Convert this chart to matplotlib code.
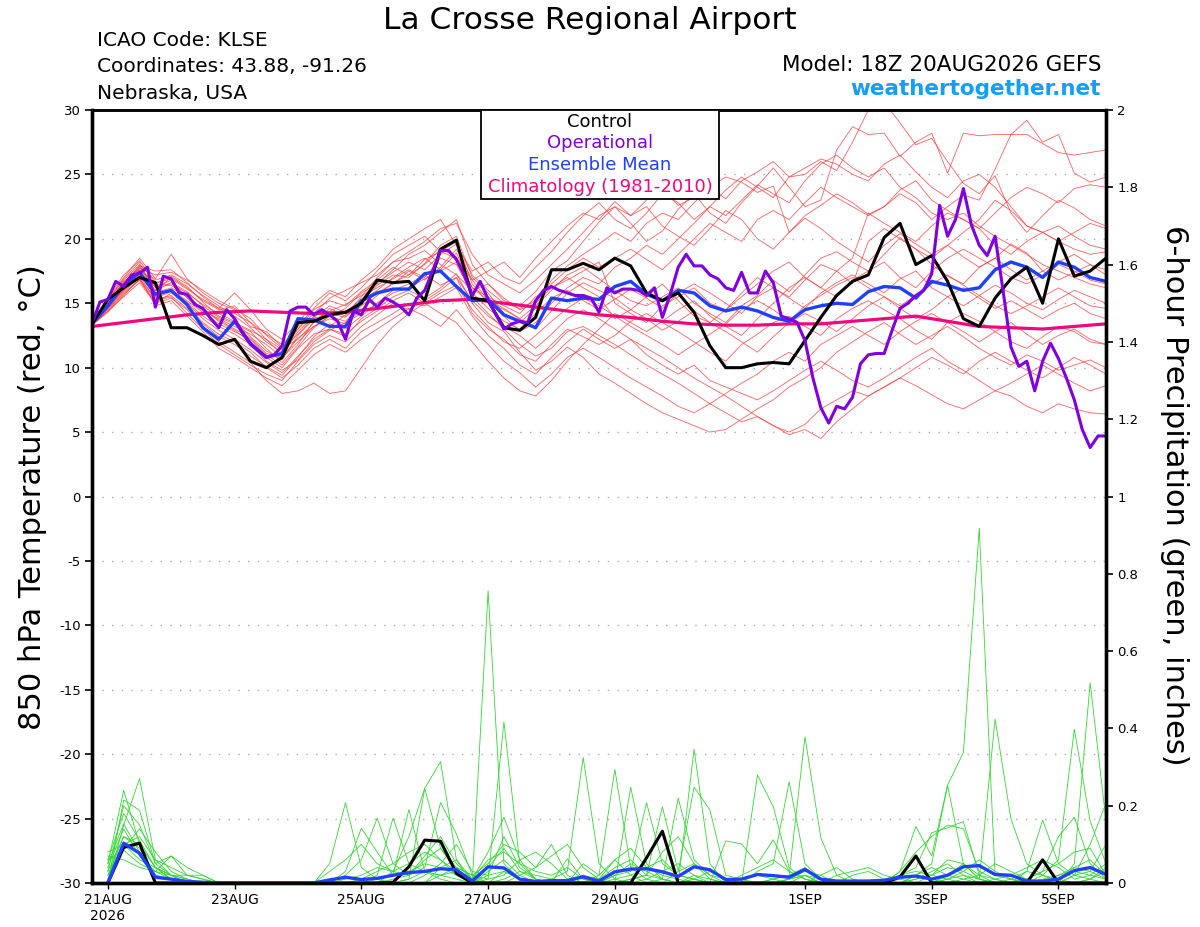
import numpy as np
import pandas as pd
import matplotlib
matplotlib.use("Agg")
import matplotlib.pyplot as plt
from matplotlib.patches import Rectangle

plt.rcParams["font.family"] = ["DejaVu Sans"]
plt.rcParams["axes.unicode_minus"] = False

# time axes (run 18Z 20AUG2026)
times6 = pd.date_range("2026-08-20 18:00", periods=65, freq="6h")
times3 = pd.date_range("2026-08-20 18:00", periods=129, freq="3h")
times12 = pd.date_range("2026-08-20 18:00", periods=33, freq="12h")
times_p = times6[1:]

tick_times = pd.to_datetime(["2026-08-21", "2026-08-23", "2026-08-25", "2026-08-27",
                             "2026-08-29", "2026-09-01", "2026-09-03", "2026-09-05"])
tick_labels = ["21AUG\n2026", "23AUG", "25AUG", "27AUG", "29AUG", "1SEP", "3SEP", "5SEP"]

# 850 hPa temperature, control (6h)
control_t = [13.4, 15.3, 16.2, 17.0, 16.6, 13.1, 13.1, 12.5, 11.8,
             12.2, 10.5, 10.0, 10.8, 13.5, 13.6, 14.1, 14.3,
             15.0, 16.8, 16.6, 16.7, 15.2, 19.2, 19.9, 15.4,
             15.2, 13.1, 12.9, 13.9, 17.6, 17.6, 18.1, 17.6,
             18.5, 17.9, 15.8, 15.2, 15.8, 14.3, 11.7, 10.0,
             10.0, 10.3, 10.4, 10.3, 12.1, 13.9, 15.6, 16.7,
             17.2, 20.1, 21.2, 18.0, 18.7, 16.7, 13.8, 13.2,
             15.4, 16.9, 17.8, 15.0, 20.0, 17.1, 17.5, 18.5]

# ensemble mean (6h)
mean_t = [13.4, 14.8, 16.4, 17.4, 15.7, 16.0, 14.9, 13.1, 12.2,
          13.6, 11.9, 10.8, 11.1, 13.8, 13.7, 13.2, 13.2,
          15.2, 15.8, 16.1, 16.1, 17.3, 17.5, 16.3, 15.2,
          15.3, 14.1, 13.6, 13.1, 15.4, 15.2, 15.4, 15.3,
          16.3, 16.7, 15.7, 15.2, 16.0, 15.8, 14.8, 14.4,
          14.7, 14.4, 13.9, 13.6, 14.5, 14.8, 15.0, 14.9,
          15.9, 16.3, 16.2, 15.4, 16.7, 16.4, 16.0, 16.2,
          17.6, 18.2, 17.8, 17.0, 18.2, 17.8, 17.0, 16.7]

# operational run (3h)
oper_t = [13.4, 15.1, 15.3, 16.7, 16.3, 17.2, 17.3, 17.8, 14.7, 17.1, 16.9, 15.8, 15.7,
          14.9, 14.6, 13.8, 13.1, 14.5, 13.8, 12.7, 11.8, 11.3, 10.8, 11.0, 11.7,
          14.4, 14.7, 14.7, 14.1, 14.5, 14.1, 13.6, 12.2, 14.4, 14.1, 15.3, 14.7,
          15.4, 15.1, 14.7, 14.1, 15.4, 16.0, 17.5, 19.1, 19.1, 18.4, 17.2, 15.6,
          16.7, 15.3, 14.1, 13.0, 13.4, 13.6, 13.5, 15.2, 16.0, 16.3, 16.0, 15.8,
          15.6, 15.6, 15.4, 14.3, 16.2, 15.8, 16.1, 16.1, 16.0, 15.6, 16.2, 13.9,
          15.7, 17.8, 18.8, 17.9, 17.9, 17.2, 16.9, 16.2, 16.0, 17.4, 15.8, 15.8,
          17.5, 16.6, 14.0, 13.8, 13.5, 12.1, 9.2, 6.9, 5.7, 7.0, 6.8, 7.7,
          10.3, 11.0, 11.1, 11.1, 12.9, 14.6, 15.0, 15.6, 16.0, 17.3, 22.6, 20.2,
          21.5, 23.9, 21.1, 19.5, 18.7, 20.2, 16.0, 11.6, 10.1, 10.5, 8.2, 10.5,
          11.9, 10.7, 9.2, 7.5, 5.2, 3.8, 4.7, 4.7]

# climatology 1981-2010 (12h)
clim_t = [13.2, 13.5, 13.8, 14.1, 14.3, 14.4, 14.3, 14.2, 14.3, 14.6, 14.9,
          15.2, 15.3, 15.0, 14.7, 14.4, 14.1, 13.9, 13.6, 13.4, 13.3, 13.3,
          13.4, 13.4, 13.6, 13.8, 14.0, 13.6, 13.2, 13.1, 13.0, 13.2, 13.4]

# ensemble members, temperature (6h)
ens_t01 = [13.4, 15.0, 16.5, 17.8, 16.4, 16.5, 15.8, 14.9, 14.2,
           13.6, 12.4, 11.3, 10.6, 12.5, 13.8, 14.2, 13.9,
           15.1, 16.4, 17.2, 17.0, 18.1, 19.5, 20.2, 17.0,
           15.8, 14.2, 13.5, 14.6, 16.8, 17.9, 18.8, 19.6,
           20.5, 19.8, 21.2, 22.0, 21.5, 22.8, 24.0, 23.1,
           24.5, 25.2, 26.0, 24.8, 25.0, 26.0, 25.3, 27.5,
           30.0, 30.6, 29.0, 27.3, 27.8, 26.0, 24.3, 23.5,
           24.9, 22.0, 20.5, 21.8, 23.0, 22.4, 21.5, 21.0]
ens_t02 = [13.5, 14.6, 16.2, 17.5, 16.0, 17.0, 16.2, 15.2, 14.5,
           14.8, 13.5, 12.2, 11.0, 12.8, 14.0, 13.2, 14.1,
           15.5, 17.0, 18.2, 18.5, 19.1, 18.0, 17.2, 16.0,
           16.5, 15.2, 14.8, 15.9, 17.5, 18.3, 19.8, 21.3,
           22.5, 21.2, 19.8, 20.6, 22.3, 23.5, 22.0, 21.2,
           22.8, 24.1, 25.5, 24.0, 22.5, 23.0, 26.9, 28.7,
           28.1, 28.2, 26.4, 27.5, 28.2, 25.1, 28.2, 28.0,
           28.1, 28.1, 28.1, 27.4, 26.7, 26.5, 26.7, 26.9]
ens_t03 = [13.3, 14.8, 16.0, 17.2, 15.6, 16.0, 15.1, 14.0, 13.2,
           12.6, 11.8, 10.5, 9.8, 10.6, 12.0, 12.9, 13.5,
           14.2, 15.0, 15.8, 16.2, 16.9, 17.5, 18.2, 15.5,
           14.2, 13.0, 11.8, 10.9, 11.5, 12.8, 13.2, 12.5,
           11.8, 11.0, 10.2, 9.5, 8.8, 8.0, 7.2, 6.5,
           5.8, 6.2, 5.5, 5.0, 5.6, 6.8, 7.5, 8.2,
           7.8, 8.5, 9.2, 8.6, 7.9, 7.2, 6.8, 7.5,
           8.2, 7.8, 7.0, 6.5, 7.2, 6.8, 6.5, 6.4]
ens_t04 = [13.4, 15.2, 16.8, 18.0, 16.8, 17.2, 16.5, 15.6, 14.8,
           14.0, 13.1, 12.0, 11.2, 13.0, 14.5, 15.2, 14.8,
           15.9, 16.8, 17.8, 17.2, 18.4, 19.0, 19.8, 16.5,
           15.0, 14.5, 13.8, 14.8, 16.0, 17.2, 17.8, 16.9,
           16.0, 15.2, 14.8, 15.5, 16.2, 15.0, 14.2, 13.5,
           14.8, 15.6, 16.8, 15.9, 17.2, 18.5, 19.0, 18.2,
           17.5, 18.8, 20.1, 19.2, 18.0, 17.1, 16.5, 17.8,
           18.5, 19.6, 18.9, 17.5, 16.8, 17.4, 18.0, 17.2]
ens_t05 = [13.4, 14.5, 15.8, 16.8, 15.2, 15.5, 14.2, 13.0, 11.8,
           11.0, 10.2, 9.5, 9.0, 10.5, 11.8, 12.5, 12.0,
           13.2, 14.1, 15.0, 14.5, 15.2, 16.0, 17.0, 14.2,
           13.0, 12.2, 11.0, 10.5, 11.8, 13.0, 12.4, 11.8,
           12.5, 13.6, 14.2, 13.5, 12.8, 12.0, 11.2, 10.5,
           11.8, 12.6, 13.5, 14.0, 13.2, 12.5, 13.8, 14.6,
           15.2, 14.5, 13.8, 12.9, 12.2, 13.5, 14.2, 13.6,
           12.8, 12.0, 11.5, 12.4, 13.2, 12.8, 12.0, 11.8]
ens_t06 = [13.4, 15.3, 17.0, 18.5, 16.9, 18.8, 16.9, 15.8, 15.0,
           14.5, 13.2, 12.8, 11.6, 13.2, 14.6, 15.8, 15.2,
           16.2, 17.5, 18.8, 19.5, 20.2, 19.0, 18.5, 16.8,
           17.5, 18.2, 17.0, 18.5, 19.8, 21.0, 22.0, 21.5,
           22.9, 21.8, 22.5, 21.0, 20.2, 19.5, 20.8, 22.2,
           21.5, 20.0, 19.2, 20.5, 21.8, 22.6, 23.5, 22.8,
           21.9, 22.5, 23.8, 24.5, 23.0, 22.2, 21.5, 20.8,
           22.0, 23.2, 24.0, 23.5, 22.8, 23.9, 24.2, 24.0]
ens_t07 = [13.4, 14.9, 16.3, 17.4, 15.8, 16.2, 15.5, 14.6, 13.6,
           12.9, 12.0, 10.8, 10.0, 11.5, 12.6, 13.0, 12.4,
           13.8, 14.6, 15.5, 16.0, 15.4, 16.2, 17.3, 15.0,
           13.5, 12.8, 11.2, 9.8, 10.5, 11.6, 10.8, 9.5,
           8.8, 8.0, 7.2, 6.5, 6.0, 5.5, 5.0, 5.2,
           6.0, 6.8, 7.5, 8.5, 9.2, 10.0, 11.2, 12.0,
           12.8, 13.5, 12.6, 11.8, 12.5, 13.2, 12.4, 11.5,
           10.8, 10.2, 11.0, 10.5, 9.8, 10.2, 10.6, 10.0]
ens_t08 = [13.5, 15.0, 16.6, 17.7, 17.2, 17.4, 16.8, 16.0, 15.2,
           14.6, 13.8, 12.5, 11.5, 12.2, 13.5, 14.6, 14.0,
           15.2, 16.0, 17.0, 17.8, 18.5, 17.6, 18.9, 16.2,
           15.5, 14.8, 14.2, 15.5, 16.2, 16.8, 17.5, 18.2,
           15.0, 14.2, 13.5, 14.8, 15.5, 16.2, 15.0, 14.5,
           15.8, 17.0, 16.2, 15.5, 16.8, 18.0, 17.5, 16.5,
           19.8, 20.8, 20.0, 19.2, 18.5, 19.5, 20.5, 21.5,
           23.0, 22.2, 21.0, 20.5, 19.8, 20.5, 21.2, 20.8]
ens_t09 = [13.3, 14.4, 15.5, 16.6, 15.0, 15.8, 14.8, 13.5, 12.6,
           12.0, 11.2, 10.0, 9.2, 10.2, 11.5, 12.2, 11.5,
           12.8, 13.5, 14.2, 15.0, 14.8, 15.5, 16.2, 14.0,
           12.5, 11.5, 10.2, 9.5, 10.8, 12.0, 13.0, 12.2,
           11.5, 12.2, 11.0, 10.2, 9.5, 10.2, 9.0, 8.5,
           8.0, 7.5, 8.2, 9.0, 9.8, 10.5, 9.8, 9.0,
           8.5, 9.2, 10.0, 10.8, 11.5, 10.5, 9.8, 9.0,
           8.2, 8.8, 9.5, 10.2, 9.5, 8.8, 8.2, 8.6]
ens_t10 = [13.4, 15.1, 16.4, 17.9, 16.2, 16.8, 15.4, 14.4, 13.8,
           13.2, 12.6, 11.8, 10.8, 12.0, 13.2, 14.0, 13.6,
           14.8, 15.8, 16.5, 17.5, 16.8, 17.8, 19.2, 16.8,
           15.2, 14.0, 12.8, 13.5, 15.0, 16.2, 17.0, 16.5,
           17.8, 18.5, 19.5, 18.8, 20.0, 21.2, 22.5, 21.8,
           23.0, 24.2, 23.5, 22.8, 24.5, 25.8, 26.5, 25.5,
           24.8, 25.5, 24.0, 23.2, 22.0, 21.5, 22.0, 21.0,
           20.2, 19.5, 18.8, 18.0, 17.5, 17.0, 16.5, 16.2]
ens_t11 = [13.4, 14.7, 16.1, 17.3, 16.0, 16.6, 15.9, 14.8, 13.9,
           13.4, 12.8, 11.5, 10.4, 11.8, 13.6, 14.4, 14.9,
           15.6, 16.2, 16.9, 17.6, 17.0, 18.5, 18.0, 15.8,
           14.6, 13.6, 13.0, 14.2, 15.4, 16.0, 15.2, 14.5,
           15.3, 16.1, 15.4, 14.6, 15.8, 16.5, 15.8, 15.0,
           14.2, 15.5, 16.2, 15.4, 14.6, 15.8, 16.6, 17.2,
           16.5, 15.8, 16.9, 17.5, 16.2, 15.5, 14.8, 15.6,
           16.4, 15.8, 15.0, 14.5, 15.3, 16.0, 15.5, 15.0]
ens_t12 = [13.5, 15.4, 17.2, 18.3, 16.6, 16.9, 16.1, 15.3, 14.6,
           15.8, 14.5, 13.0, 12.2, 13.5, 15.0, 16.0, 15.5,
           16.8, 17.8, 19.2, 20.0, 20.8, 21.5, 19.5, 17.5,
           18.2, 17.0, 16.5, 17.8, 19.0, 20.5, 21.8, 22.8,
           21.5, 20.8, 22.0, 23.5, 22.8, 21.5, 22.5, 23.8,
           24.8, 24.0, 23.2, 24.8, 25.5, 26.2, 25.8, 25.0,
           24.5, 25.8, 26.5, 25.2, 24.0, 23.2, 24.5, 25.0,
           24.0, 22.5, 21.0, 20.5, 19.8, 19.2, 18.8, 19.0]
ens_t13 = [13.3, 14.3, 15.6, 16.9, 15.4, 15.9, 15.0, 13.8, 12.9,
           12.2, 11.4, 10.4, 9.6, 10.9, 12.2, 13.0, 12.6,
           13.6, 14.4, 15.2, 15.8, 15.0, 14.2, 13.5, 12.0,
           10.5, 9.2, 8.2, 7.8, 9.0, 10.5, 11.8, 13.0,
           14.2, 13.5, 12.8, 13.6, 14.5, 15.2, 14.0, 13.2,
           12.5, 13.8, 15.0, 16.2, 17.0, 16.2, 15.5, 16.8,
           17.5, 18.2, 17.0, 16.2, 17.5, 18.5, 19.2, 18.5,
           17.8, 17.0, 16.5, 17.2, 18.0, 17.5, 16.8, 16.5]
ens_t14 = [13.4, 15.0, 16.7, 17.6, 16.5, 17.1, 16.3, 15.1, 14.0,
           13.5, 12.9, 12.2, 11.4, 12.6, 13.9, 14.8, 14.3,
           15.3, 16.6, 17.4, 18.2, 17.6, 18.8, 19.6, 17.2,
           16.0, 15.0, 14.6, 15.2, 16.5, 17.6, 18.5, 17.8,
           18.5, 19.2, 18.4, 17.6, 18.8, 20.0, 21.2, 20.5,
           19.8, 21.5, 22.2, 21.5, 22.8, 24.0, 23.2, 22.5,
           21.8, 22.5, 23.5, 22.8, 21.5, 22.5, 23.4, 23.0,
           25.4, 28.1, 29.2, 27.5, 28.1, 25.1, 24.4, 24.8]
ens_t15 = [13.4, 14.6, 15.9, 17.0, 14.8, 15.2, 14.0, 12.8, 11.5,
           10.8, 10.0, 9.2, 8.6, 9.8, 11.0, 11.8, 11.2,
           12.2, 13.0, 13.8, 14.6, 14.0, 13.2, 14.5, 13.0,
           11.8, 10.5, 9.6, 8.5, 9.5, 10.8, 11.5, 10.8,
           10.0, 9.2, 8.5, 7.8, 7.0, 6.5, 7.2, 8.0,
           8.8, 9.5, 10.5, 11.2, 10.5, 11.8, 12.5, 13.2,
           12.5, 11.8, 12.8, 13.6, 14.2, 13.5, 12.8, 12.0,
           12.8, 13.5, 12.6, 11.8, 12.5, 13.0, 12.2, 11.8]
ens_t16 = [13.4, 15.2, 16.9, 18.2, 15.5, 16.0, 15.2, 14.3, 13.4,
           12.8, 12.2, 11.0, 10.2, 11.6, 13.1, 14.0, 14.6,
           15.8, 16.5, 17.6, 18.8, 19.5, 20.5, 21.5, 18.0,
           16.5, 15.4, 14.5, 15.0, 16.2, 17.0, 16.2, 15.5,
           13.8, 14.5, 15.5, 16.5, 15.2, 14.0, 13.5, 14.5,
           15.5, 16.5, 17.5, 18.2, 17.0, 16.2, 17.5, 18.5,
           22.0, 21.2, 20.5, 19.8, 21.0, 22.0, 21.5, 20.8,
           19.5, 18.8, 19.8, 20.5, 21.0, 20.2, 19.5, 19.2]
ens_t17 = [13.3, 14.6, 16.0, 17.1, 15.3, 15.6, 14.6, 13.4, 12.4,
           11.8, 10.9, 10.1, 9.4, 10.8, 12.4, 13.4, 13.0,
           14.0, 15.0, 16.0, 16.5, 17.2, 16.4, 17.0, 15.2,
           14.0, 13.2, 12.5, 11.5, 12.6, 13.8, 14.5, 13.8,
           13.0, 12.2, 11.5, 10.8, 10.0, 9.2, 8.5, 7.8,
           7.0, 6.2, 5.5, 4.8, 5.2, 4.5, 5.8, 6.8,
           7.8, 8.5, 9.2, 10.0, 10.8, 10.2, 9.5, 10.5,
           11.2, 10.5, 9.8, 9.2, 10.0, 10.8, 10.2, 9.5]
ens_t18 = [13.5, 14.9, 16.4, 17.6, 16.3, 16.4, 15.6, 14.5, 13.7,
           13.0, 12.3, 11.1, 10.8, 12.3, 13.2, 13.8, 13.4,
           14.5, 15.6, 16.6, 17.2, 18.0, 19.2, 18.6, 16.2,
           15.2, 14.6, 13.8, 13.0, 14.4, 15.8, 16.6, 16.0,
           15.4, 14.5, 13.8, 12.9, 13.6, 14.4, 13.5, 12.8,
           12.0, 11.2, 12.4, 13.5, 14.2, 13.6, 12.8, 13.8,
           14.8, 15.5, 14.6, 13.8, 14.5, 15.5, 16.2, 15.4,
           14.6, 15.2, 14.5, 13.8, 14.5, 15.0, 14.2, 13.8]
ens_t19 = [13.4, 15.1, 16.6, 17.9, 17.5, 17.6, 16.6, 15.5, 14.6,
           14.2, 13.5, 12.6, 11.8, 13.0, 14.2, 15.4, 16.0,
           16.6, 17.2, 18.2, 19.0, 19.8, 20.8, 21.2, 18.8,
           17.2, 16.5, 15.8, 16.8, 18.0, 19.2, 20.5, 21.8,
           22.5, 21.8, 23.0, 23.8, 22.6, 23.2, 24.0, 24.8,
           24.4, 23.6, 24.1, 20.5, 21.6, 20.8, 19.8, 19.0,
           18.2, 19.5, 20.4, 19.6, 18.8, 19.5, 18.6, 17.8,
           18.5, 17.6, 16.8, 17.5, 18.2, 18.8, 18.0, 17.6]
ens_t20 = [13.3, 14.4, 15.7, 16.8, 15.0, 15.4, 14.5, 13.2, 12.0,
           11.2, 10.4, 9.0, 8.0, 8.2, 8.8, 8.0, 8.2,
           10.0, 11.8, 13.2, 14.2, 15.0, 15.8, 16.4, 14.5,
           13.2, 12.0, 11.5, 12.5, 13.6, 14.6, 15.4, 14.8,
           14.0, 13.2, 12.5, 11.8, 11.0, 11.8, 12.6, 13.4,
           14.5, 15.2, 14.5, 13.6, 14.8, 15.6, 16.4, 17.0,
           16.2, 15.5, 14.8, 15.6, 16.5, 17.2, 16.4, 15.6,
           14.8, 14.2, 14.8, 15.5, 16.2, 15.5, 14.8, 14.6]

# 6-hour precipitation (inches), control and mean
control_p = [0, 0.092, 0.103, 0, 0, 0, 0, 0,
             0, 0, 0, 0, 0, 0, 0, 0,
             0, 0, 0.002, 0.042, 0.111, 0.108, 0.025, 0,
             0, 0, 0, 0, 0, 0, 0, 0,
             0, 0, 0.065, 0.134, 0, 0, 0, 0,
             0, 0, 0, 0, 0, 0, 0, 0,
             0, 0, 0.016, 0.07, 0, 0, 0, 0,
             0, 0, 0, 0.06, 0, 0, 0, 0]
mean_p = [0, 0.103, 0.077, 0.015, 0.010, 0.004, 0.002, 0,
          0, 0, 0, 0, 0, 0, 0.008, 0.015,
          0.009, 0.012, 0.020, 0.027, 0.030, 0.037, 0.034, 0.005,
          0.042, 0.039, 0.010, 0.004, 0.006, 0.006, 0.016, 0.005,
          0.029, 0.036, 0.037, 0.029, 0.017, 0.042, 0.034, 0.009,
          0.010, 0.022, 0.019, 0.015, 0.035, 0.010, 0.005, 0.005,
          0.005, 0.007, 0.015, 0.018, 0.010, 0.020, 0.042, 0.045,
          0.022, 0.020, 0.005, 0.005, 0.010, 0.032, 0.040, 0.022]

# ensemble members, precipitation
ens_p01 = [0.02, 0.12, 0.09, 0.02, 0.01, 0, 0, 0,
           0, 0, 0, 0, 0, 0, 0, 0.01,
           0.02, 0.04, 0.03, 0.05, 0.08, 0.06, 0.02, 0.0,
           0.756, 0.05, 0.01, 0, 0, 0, 0, 0,
           0.02, 0.05, 0.03, 0.01, 0, 0.02, 0.01, 0,
           0, 0, 0, 0.01, 0.02, 0, 0, 0,
           0, 0, 0, 0.01, 0.03, 0.05, 0.02, 0.01,
           0, 0, 0, 0, 0.01, 0.04, 0.06, 0.02]
ens_p02 = [0.05, 0.24, 0.10, 0.04, 0.02, 0, 0, 0,
           0, 0, 0, 0, 0, 0, 0, 0,
           0, 0.01, 0.02, 0.03, 0.05, 0.04, 0.02, 0,
           0.03, 0.06, 0.02, 0, 0, 0.01, 0.02, 0,
           0, 0, 0.01, 0.03, 0.05, 0.02, 0, 0,
           0, 0, 0, 0, 0.02, 0.01, 0, 0,
           0, 0, 0, 0.02, 0.05, 0.253, 0.338, 0.918,
           0.02, 0.01, 0, 0, 0, 0.02, 0.03, 0.01]
ens_p03 = [0.03, 0.20, 0.15, 0.05, 0.07, 0.02, 0.02, 0,
           0, 0, 0, 0, 0, 0, 0, 0,
           0, 0, 0, 0.01, 0.245, 0.09, 0.03, 0,
           0.01, 0.417, 0.05, 0.01, 0, 0, 0, 0,
           0, 0, 0, 0.01, 0.22, 0.06, 0.02, 0,
           0, 0, 0, 0, 0, 0.01, 0, 0,
           0, 0, 0, 0, 0, 0.02, 0.05, 0.01,
           0.424, 0.166, 0.05, 0.02, 0, 0, 0.01, 0.03]
ens_p04 = [0, 0.15, 0.27, 0.06, 0.02, 0, 0, 0,
           0, 0, 0, 0, 0, 0, 0, 0,
           0, 0, 0.03, 0.12, 0.245, 0.314, 0.06, 0,
           0.02, 0.03, 0.01, 0, 0, 0, 0.05, 0.02,
           0.294, 0.04, 0.01, 0, 0, 0, 0, 0,
           0, 0, 0, 0, 0, 0, 0, 0.02,
           0.03, 0.01, 0, 0, 0, 0, 0.01, 0.02,
           0.05, 0.03, 0.01, 0, 0, 0.02, 0.10, 0.207]
ens_p05 = [0.08, 0.10, 0.06, 0.04, 0.01, 0, 0, 0,
           0, 0, 0, 0, 0, 0, 0.05, 0.208,
           0.04, 0.01, 0, 0, 0, 0.02, 0.03, 0,
           0, 0, 0, 0, 0.01, 0.03, 0.325, 0.05,
           0.01, 0, 0, 0, 0, 0.01, 0, 0,
           0, 0.03, 0.05, 0.262, 0.05, 0.01, 0, 0,
           0, 0, 0, 0.02, 0.01, 0, 0, 0,
           0, 0, 0, 0.02, 0.06, 0.398, 0.16, 0.05]
ens_p06 = [0.05, 0.153, 0.08, 0.02, 0.01, 0, 0, 0,
           0, 0, 0, 0, 0, 0, 0, 0.03,
           0.142, 0.08, 0.02, 0.19, 0.03, 0.01, 0, 0,
           0, 0, 0.02, 0.04, 0.10, 0.02, 0, 0,
           0, 0.248, 0.05, 0.01, 0, 0.346, 0.05, 0,
           0, 0, 0.01, 0.02, 0.378, 0.117, 0.02, 0,
           0, 0, 0, 0, 0, 0.01, 0.02, 0,
           0, 0, 0, 0, 0, 0.05, 0.518, 0.16]
ens_p07 = [0.0, 0.215, 0.188, 0.05, 0.02, 0.01, 0, 0,
           0, 0, 0, 0, 0, 0, 0, 0.02,
           0.06, 0.168, 0.05, 0.02, 0.04, 0.208, 0.127, 0.02,
           0, 0.03, 0.01, 0, 0, 0.063, 0.01, 0,
           0.02, 0.03, 0.208, 0.05, 0.02, 0.01, 0, 0,
           0, 0.279, 0.197, 0.04, 0.01, 0, 0, 0,
           0, 0, 0.02, 0.04, 0.13, 0.143, 0.159, 0.02,
           0, 0.01, 0.03, 0.02, 0.01, 0, 0, 0]
ens_p08 = [0.03, 0.12, 0.10, 0.04, 0.02, 0.02, 0.01, 0,
           0, 0, 0, 0, 0, 0, 0, 0,
           0, 0.02, 0.168, 0.05, 0.03, 0.02, 0.01, 0,
           0.04, 0.09, 0.03, 0.01, 0, 0, 0.02, 0.01,
           0.04, 0.06, 0.02, 0.197, 0.03, 0.248, 0.189, 0.02,
           0.01, 0, 0, 0.01, 0.02, 0, 0, 0,
           0, 0, 0.03, 0.146, 0.07, 0.253, 0.05, 0.01,
           0, 0, 0.01, 0.03, 0.05, 0.08, 0.09, 0.02]
ens_p09 = [0.06, 0.085, 0.05, 0.03, 0.01, 0, 0, 0,
           0, 0, 0, 0, 0, 0, 0, 0,
           0.01, 0.03, 0.05, 0.08, 0.10, 0.06, 0.03, 0.01,
           0.06, 0.08, 0.05, 0.03, 0.02, 0.04, 0.01, 0,
           0, 0.01, 0.02, 0.01, 0, 0, 0, 0.109,
           0.101, 0.05, 0.112, 0.03, 0.01, 0, 0.02, 0.03,
           0.04, 0.02, 0.01, 0, 0.02, 0.04, 0.03, 0.01,
           0, 0, 0.03, 0.163, 0.05, 0.02, 0.01, 0]
ens_p10 = [0.07, 0.06, 0.04, 0.03, 0.02, 0.01, 0, 0,
           0, 0, 0, 0, 0, 0, 0.03, 0.06,
           0.10, 0.05, 0.03, 0.02, 0.06, 0.09, 0.04, 0.02,
           0.01, 0.02, 0.06, 0.08, 0.05, 0.01, 0, 0.02,
           0.06, 0.09, 0.04, 0.02, 0.01, 0, 0, 0,
           0.02, 0.04, 0.06, 0.03, 0.01, 0, 0, 0,
           0, 0.01, 0.02, 0.03, 0.02, 0.01, 0, 0,
           0.01, 0.02, 0.04, 0.06, 0.04, 0.01, 0.02, 0.05]
ens_p11 = [0.04, 0.14, 0.07, 0.03, 0.07, 0.04, 0.02, 0,
           0, 0, 0, 0, 0, 0, 0, 0,
           0, 0, 0, 0, 0.02, 0.05, 0.10, 0.03,
           0.02, 0.12, 0.04, 0.01, 0, 0, 0, 0,
           0, 0, 0, 0, 0.03, 0.05, 0.02, 0.01,
           0.01, 0.02, 0.01, 0, 0, 0, 0, 0,
           0, 0, 0.01, 0.02, 0.04, 0.02, 0.01, 0,
           0, 0, 0.01, 0.03, 0.12, 0.17, 0.05, 0.01]
ens_p12 = [0.02, 0.10, 0.12, 0.06, 0.04, 0.02, 0.01, 0,
           0, 0, 0, 0, 0, 0, 0, 0,
           0, 0, 0, 0, 0, 0.04, 0.06, 0.01,
           0, 0.01, 0.03, 0.02, 0.01, 0, 0, 0,
           0.01, 0.02, 0.04, 0.06, 0.02, 0.01, 0, 0,
           0, 0, 0, 0, 0, 0.02, 0.04, 0.01,
           0, 0, 0.03, 0.08, 0.12, 0.15, 0.14, 0.03,
           0.01, 0, 0, 0, 0.02, 0.04, 0.03, 0.10]
ens_p13 = [0.06, 0.18, 0.11, 0.04, 0.01, 0, 0, 0,
           0, 0, 0, 0, 0, 0, 0, 0,
           0, 0, 0.01, 0.02, 0.07, 0.12, 0.05, 0.01,
           0.08, 0.17, 0.06, 0.01, 0, 0, 0, 0,
           0, 0.01, 0.02, 0.08, 0.12, 0.05, 0.01, 0,
           0, 0, 0, 0.01, 0.03, 0.02, 0, 0,
           0, 0, 0, 0.01, 0.02, 0.06, 0.05, 0.02,
           0.01, 0, 0, 0.01, 0.02, 0.03, 0.02, 0.01]
ens_p14 = [0.01, 0.09, 0.14, 0.08, 0.03, 0.01, 0, 0,
           0, 0, 0, 0, 0, 0, 0, 0,
           0, 0, 0, 0.01, 0.03, 0.02, 0.04, 0.02,
           0.05, 0.10, 0.08, 0.04, 0.07, 0.10, 0.04, 0.01,
           0.06, 0.02, 0, 0, 0, 0.01, 0.03, 0.01,
           0, 0, 0.01, 0.02, 0.04, 0.01, 0, 0,
           0, 0, 0, 0, 0, 0.01, 0.03, 0.06,
           0.03, 0.01, 0, 0, 0, 0, 0.01, 0.04]

temp_members = [ens_t01, ens_t02, ens_t03, ens_t04, ens_t05, ens_t06, ens_t07,
                ens_t08, ens_t09, ens_t10, ens_t11, ens_t12, ens_t13, ens_t14,
                ens_t15, ens_t16, ens_t17, ens_t18, ens_t19, ens_t20]
precip_members = [ens_p01, ens_p02, ens_p03, ens_p04, ens_p05, ens_p06, ens_p07,
                  ens_p08, ens_p09, ens_p10, ens_p11, ens_p12, ens_p13, ens_p14]

RED = "#FF3A3A"
GREEN = "#33D833"
PURPLE = "#8000E0"
BLUE = "#2040FF"
PINK = "#F0087F"

W, H = 1200, 927
fig = plt.figure(figsize=(W / 100, H / 100), dpi=100)
ax = fig.add_axes([92 / W, 1 - 883 / H, (1106 - 92) / W, (883 - 110) / H])
ax2 = ax.twinx()

# temperature
for m in temp_members:
    ax.plot(times6, m, color=RED, lw=0.6, alpha=0.8)
ax.plot(times12, clim_t, color=PINK, lw=2.3)
ax.plot(times6, mean_t, color=BLUE, lw=2.4)
ax.plot(times6, control_t, color="black", lw=2.2)
ax.plot(times3, oper_t, color=PURPLE, lw=2.2)

# precipitation
for p in precip_members:
    ax2.plot(times_p, p, color=GREEN, lw=0.6)
ax2.plot(times_p, control_p, color="black", lw=2.2)
ax2.plot(times_p, mean_p, color=BLUE, lw=2.4)

ax.set_xlim(times6[0], times6[-1])
ax.set_ylim(-30, 30)
ax.set_yticks(range(-30, 31, 5))
ax.yaxis.grid(True, color="#AAAAAA", lw=1.0, ls=(0, (1, 6)))
ax.set_axisbelow(True)
ax2.set_ylim(0, 2)
rticks = np.arange(0, 2.01, 0.2)
ax2.set_yticks(rticks)
ax2.set_yticklabels([f"{v:g}" for v in np.round(rticks, 1)])

ax.set_xticks(tick_times)
ax.set_xticklabels(tick_labels)

ax.tick_params(axis="y", direction="out", length=5, width=1.2, labelsize=9.5, pad=3)
ax.tick_params(axis="x", direction="out", length=4, width=1.0, labelsize=10, pad=3)
ax2.tick_params(axis="y", direction="out", length=5, width=1.2, labelsize=9.5, pad=3)

for a in (ax, ax2):
    for s in ("left", "right", "bottom"):
        a.spines[s].set_linewidth(2.4)
    a.spines["top"].set_linewidth(1.8)

fig.text(590 / W, 1 - 29 / H, "La Crosse Regional Airport", fontsize=22.5,
         ha="center", va="baseline")
fig.text(97 / W, 1 - 46 / H, "ICAO Code: KLSE", fontsize=14.5, va="baseline")
fig.text(97 / W, 1 - 72 / H, "Coordinates: 43.88, -91.26", fontsize=14.5, va="baseline")
fig.text(97 / W, 1 - 99 / H, "Nebraska, USA", fontsize=14.5, va="baseline")
fig.text(1101 / W, 1 - 71 / H, "Model: 18Z 20AUG2026 GEFS", fontsize=15.5,
         ha="right", va="baseline")
fig.text(1101 / W, 1 - 95 / H, "weathertogether.net", fontsize=15.5, weight="bold",
         color="#11A0F8", ha="right", va="baseline")

fig.text(33 / W, 1 - 497 / H, "850 hPa Temperature (red, °C)", fontsize=22,
         rotation=90, ha="center", va="center")
fig.text(1175 / W, 1 - 495 / H, "6-hour Precipitation (green, inches)", fontsize=22,
         rotation=-90, ha="center", va="center")

# legend box
box = Rectangle((481 / W, 1 - 198.5 / H), (719 - 481) / W, (198.5 - 110) / H,
                transform=fig.transFigure, facecolor="white", edgecolor="black",
                lw=1.3, zorder=10)
fig.add_artist(box)
leg_items = [("Control", "black", 127), ("Operational", PURPLE, 148),
             ("Ensemble Mean", BLUE, 170), ("Climatology (1981-2010)", PINK, 192)]
for txt, col, yb in leg_items:
    fig.text(600 / W, 1 - yb / H, txt, color=col, fontsize=13, ha="center",
             va="baseline", zorder=11)

fig.savefig("out.png", dpi=100)
